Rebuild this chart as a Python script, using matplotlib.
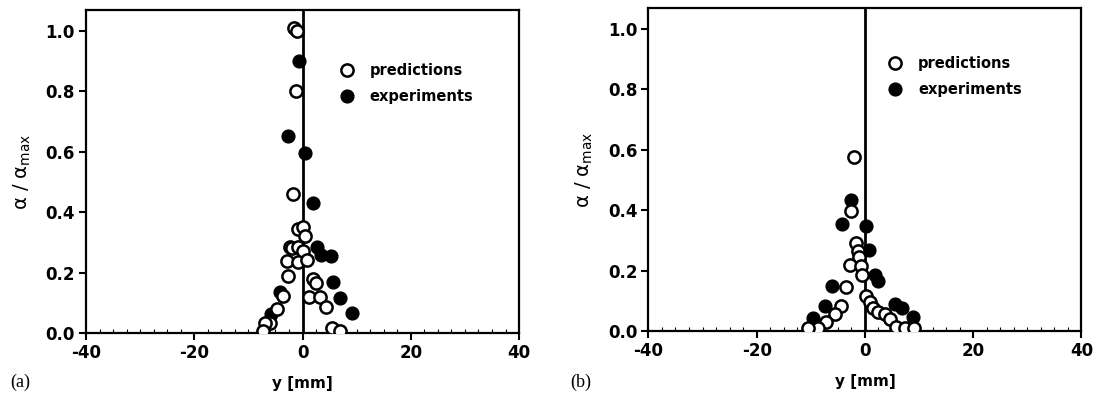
import numpy as np
import matplotlib
matplotlib.use("Agg")
import matplotlib.pyplot as plt
from matplotlib.ticker import MultipleLocator

# ── data ────────────────────────────────────────────────────
# panel (a)
a_pred_y = [-1.5, -1.0, -1.2, -1.7, -0.9, 0.15, 0.46, -2.3, -2.0, -0.8, 0.15,
            -2.8, -0.8, 0.77, -2.6, 1.9, 2.5, -3.7, 1.25, 3.2, -4.7, 4.3,
            -6.1, -6.9, -7.3, 5.4, 6.9]
a_pred_a = [1.01, 1.00, 0.80, 0.46, 0.343, 0.352, 0.32, 0.286, 0.28, 0.286, 0.27,
            0.24, 0.236, 0.242, 0.189, 0.178, 0.165, 0.122, 0.12, 0.12, 0.078, 0.085,
            0.034, 0.034, 0.007, 0.016, 0.008]
a_exp_y = [-0.65, -2.7, 0.5, 1.9, 2.7, 3.4, 5.2, 5.7, -4.2, 6.9, 9.1, -5.8]
a_exp_a = [0.90, 0.653, 0.595, 0.43, 0.286, 0.258, 0.255, 0.168, 0.137, 0.117, 0.068, 0.062]

# panel (b)
b_pred_y = [-2.1, -2.6, -1.7, -1.2, -1.05, -2.8, -0.8, -0.6, -3.5, 0.2, 0.9,
            1.5, 2.5, 3.7, 4.6, 5.8, 7.4, 9.1, -4.5, -5.5, -7.2, -8.6, -10.5]
b_pred_a = [0.575, 0.398, 0.29, 0.266, 0.244, 0.22, 0.215, 0.184, 0.146, 0.116, 0.095,
            0.078, 0.062, 0.055, 0.04, 0.014, 0.009, 0.009, 0.084, 0.056, 0.031, 0.009, 0.009]
b_exp_y = [-2.5, -4.2, 0.2, 0.8, 1.8, 2.4, -6.1, 5.6, 6.8, -7.4, -9.5, 8.9]
b_exp_a = [0.433, 0.354, 0.349, 0.27, 0.186, 0.166, 0.15, 0.088, 0.075, 0.084, 0.042, 0.047]

XTICKS = [-40, -20, 0, 20, 40]
YTICKS = [0.0, 0.2, 0.4, 0.6, 0.8, 1.0]
PANELS = ["(a)", "(b)"]

plt.rcParams["font.family"] = "DejaVu Sans"
plt.rcParams["mathtext.fontset"] = "dejavusans"
plt.rcParams["axes.unicode_minus"] = False

fig = plt.figure(figsize=(10.99, 3.96), dpi=100)
ax_a = fig.add_axes([0.0783, 0.159, 0.394, 0.816])
ax_b = fig.add_axes([0.590, 0.164, 0.394, 0.816])

panels = [(ax_a, a_pred_y, a_pred_a, a_exp_y, a_exp_a, (0.551, 0.772)),
          (ax_b, b_pred_y, b_pred_a, b_exp_y, b_exp_a, (0.518, 0.787))]

for (ax, py, pa, ey, ea, leg), tag in zip(panels, PANELS):
    ax.axvline(0, color="black", linewidth=2.0, zorder=1)
    ax.plot(ey, ea, "o", ms=9.2, mfc="black", mec="black", mew=1.0,
            linestyle="none", label="experiments", zorder=3)
    ax.plot(py, pa, "o", ms=8.8, mfc="white", mec="black", mew=1.8,
            linestyle="none", label="predictions", zorder=4)
    ax.set_xlim(-40, 40)
    ax.set_ylim(0, 1.07)
    ax.set_xticks(XTICKS)
    ax.set_yticks(YTICKS)
    ax.set_yticklabels([f"{v:.1f}" for v in YTICKS])
    ax.xaxis.set_minor_locator(MultipleLocator(2.5))
    ax.tick_params(axis="x", which="major", direction="out", length=5, width=1.5,
                   labelsize=12, pad=3)
    ax.tick_params(axis="x", which="minor", direction="in", length=3, width=0.8)
    ax.tick_params(axis="y", which="major", direction="out", length=5, width=1.5,
                   labelsize=12, pad=3)
    for lbl in ax.get_xticklabels() + ax.get_yticklabels():
        lbl.set_fontweight("bold")
    for sp in ax.spines.values():
        sp.set_linewidth(1.6)
    ax.set_xlabel("y [mm]", fontsize=11, fontweight="bold", labelpad=10)
    ax.set_ylabel(r"$\mathrm{\alpha}$ / $\mathrm{\alpha}_{\mathrm{max}}$",
                  fontsize=14, labelpad=9)

    h, l = ax.get_legend_handles_labels()
    ax.legend(h[::-1], l[::-1], loc="center left", bbox_to_anchor=leg,
              frameon=False, handletextpad=1.0, labelspacing=0.75,
              prop={"weight": "bold", "size": 10.5}, handlelength=1.2)

fig.text(0.009, 0.022, "(a)", fontsize=13, family="Liberation Serif")
fig.text(0.519, 0.022, "(b)", fontsize=13, family="Liberation Serif")

fig.savefig("out.png", dpi=100)
